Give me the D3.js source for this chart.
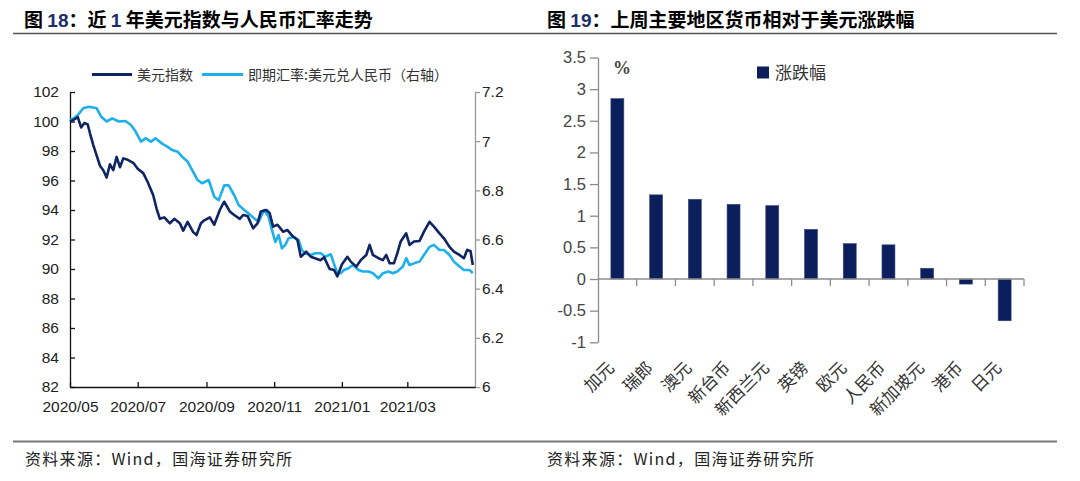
<!DOCTYPE html>
<html><head><meta charset="utf-8">
<script src="https://cdn.jsdelivr.net/npm/d3@7"></script>
<style>body{margin:0;background:#fff} svg{display:block}</style>
</head><body><svg id="c" width="1080" height="481"></svg>
<script>
// ---------- Figure 18 data ----------
const usdDates = ["2020-05-01","2020-05-04","2020-05-08","2020-05-11","2020-05-14","2020-05-17","2020-05-19","2020-05-22","2020-05-25","2020-05-28","2020-05-31","2020-06-03","2020-06-06","2020-06-09","2020-06-12","2020-06-15","2020-06-18","2020-06-22","2020-06-27","2020-07-01","2020-07-06","2020-07-10","2020-07-15","2020-07-18","2020-07-21","2020-07-25","2020-07-30","2020-08-03","2020-08-08","2020-08-11","2020-08-15","2020-08-20","2020-08-23","2020-08-27","2020-08-30","2020-09-04","2020-09-08","2020-09-13","2020-09-17","2020-09-22","2020-09-26","2020-10-01","2020-10-04","2020-10-08","2020-10-13","2020-10-17","2020-10-20","2020-10-25","2020-10-28","2020-10-31","2020-11-04","2020-11-09","2020-11-13","2020-11-18","2020-11-22","2020-11-25","2020-11-30","2020-12-04","2020-12-09","2020-12-13","2020-12-16","2020-12-21","2020-12-25","2020-12-28","2021-01-01","2021-01-06","2021-01-09","2021-01-14","2021-01-18","2021-01-23","2021-01-26","2021-01-29","2021-02-03","2021-02-07","2021-02-10","2021-02-13","2021-02-17","2021-02-20","2021-02-23","2021-02-28","2021-03-03","2021-03-07","2021-03-12","2021-03-16","2021-03-21","2021-03-25","2021-03-30","2021-04-03","2021-04-08","2021-04-12","2021-04-17","2021-04-21","2021-04-24","2021-04-27","2021-04-29"];
const usdValues = [100.0,100.1,100.3,99.6,99.9,99.8,99.2,98.4,97.7,97.0,96.7,96.2,97.1,96.7,97.6,96.9,97.5,97.4,97.2,96.8,96.5,95.9,95.0,94.1,93.4,93.5,93.1,93.4,93.1,92.6,93.2,92.5,92.3,93.1,93.3,93.5,93.0,94.0,94.56,93.9,93.66,93.4,93.66,93.6,92.76,93.1,93.9,94.0,93.78,92.87,93.0,92.53,92.64,92.2,91.97,90.83,91.17,90.83,90.7,90.6,90.8,90.0,89.93,89.5,90.3,90.83,90.5,90.16,90.6,90.95,91.63,90.95,90.73,90.6,90.95,90.39,90.4,91.07,91.86,92.42,91.63,91.86,91.9,92.53,93.2,92.87,92.42,92.08,91.5,91.17,90.95,90.73,91.3,91.2,90.27];
const cnyDates = ["2020-05-01","2020-05-05","2020-05-08","2020-05-13","2020-05-18","2020-05-25","2020-05-29","2020-06-03","2020-06-08","2020-06-14","2020-06-20","2020-06-25","2020-06-29","2020-07-04","2020-07-08","2020-07-13","2020-07-17","2020-07-23","2020-07-28","2020-08-01","2020-08-06","2020-08-10","2020-08-15","2020-08-19","2020-08-24","2020-08-28","2020-09-03","2020-09-08","2020-09-12","2020-09-17","2020-09-21","2020-09-26","2020-09-30","2020-10-05","2020-10-09","2020-10-14","2020-10-18","2020-10-23","2020-10-27","2020-10-30","2020-11-02","2020-11-05","2020-11-08","2020-11-11","2020-11-14","2020-11-19","2020-11-23","2020-11-26","2020-11-29","2020-12-04","2020-12-08","2020-12-13","2020-12-17","2020-12-22","2020-12-25","2020-12-28","2020-12-31","2021-01-03","2021-01-07","2021-01-11","2021-01-16","2021-01-20","2021-01-25","2021-01-29","2021-02-03","2021-02-07","2021-02-12","2021-02-16","2021-02-20","2021-02-25","2021-02-28","2021-03-03","2021-03-07","2021-03-12","2021-03-16","2021-03-21","2021-03-25","2021-03-30","2021-04-03","2021-04-08","2021-04-12","2021-04-17","2021-04-21","2021-04-26","2021-04-29"];
const cnyValues = [7.086,7.095,7.106,7.134,7.14,7.134,7.10,7.08,7.093,7.08,7.082,7.066,7.04,6.998,7.012,6.998,7.012,6.99,6.977,6.964,6.957,6.937,6.917,6.883,6.842,6.829,6.842,6.774,6.76,6.82,6.82,6.78,6.74,6.72,6.706,6.686,6.672,6.72,6.693,6.639,6.59,6.618,6.564,6.578,6.605,6.61,6.598,6.557,6.544,6.537,6.544,6.544,6.53,6.54,6.50,6.463,6.463,6.476,6.483,6.496,6.476,6.47,6.47,6.463,6.442,6.463,6.47,6.463,6.47,6.49,6.524,6.496,6.503,6.51,6.537,6.57,6.578,6.557,6.557,6.537,6.51,6.49,6.476,6.476,6.463];
const leftTicks = [82,84,86,88,90,92,94,96,98,100,102];
const rightTicks = [6,6.2,6.4,6.6,6.8,7,7.2];
const monthTicks = ["2020-05-01","2020-07-01","2020-09-01","2020-11-01","2021-01-01","2021-03-01"];
const seriesNames = ["美元指数","即期汇率:美元兑人民币（右轴）"];

// ---------- Figure 19 data ----------
const currencies = ["加元","瑞郎","澳元","新台币","新西兰元","英镑","欧元","人民币","新加坡元","港币","日元"];
const changes = [2.85,1.33,1.26,1.18,1.16,0.785,0.56,0.54,0.17,-0.08,-0.66];
const barTicks = [-1,-0.5,0,0.5,1,1.5,2,2.5,3,3.5];
const barSeries = "涨跌幅";

const FONT = "'Liberation Sans', Arial, 'Noto Sans CJK SC', sans-serif";
const CJK = "'Noto Sans CJK SC', 'Liberation Sans', sans-serif";
const DARK = "#0f2462", LIGHT = "#1eb0ea", BAR = "#0b1f5c";

const svg = d3.select("#c");
svg.append("rect").attr("width",1080).attr("height",481).attr("fill","#fff");

// Titles
function title(x, num, rest1, num2, rest2){
  const t = svg.append("text").attr("x",x).attr("y",27).attr("font-family",CJK)
    .attr("font-size",19).attr("font-weight","bold").attr("fill","#000");
  t.append("tspan").text("图 ");
  t.append("tspan").attr("font-family",FONT).attr("fill","#1b2f6b").text(num);
  t.append("tspan").text(rest1);
  if(num2){ t.append("tspan").attr("font-family",FONT).attr("fill","#1b2f6b").text(num2);
            t.append("tspan").text(rest2); }
}
title(24,"18","：近 ","1"," 年美元指数与人民币汇率走势");
title(547,"19","：上周主要地区货币相对于美元涨跌幅");
svg.append("line").attr("x1",13).attr("x2",1057).attr("y1",33.5).attr("y2",33.5).attr("stroke","#555").attr("stroke-width",1.3);
svg.append("line").attr("x1",13).attr("x2",1057).attr("y1",441.5).attr("y2",441.5).attr("stroke","#777").attr("stroke-width",2);
[25,547].forEach(x=>svg.append("text").attr("x",x).attr("y",465).attr("font-family",CJK)
  .attr("font-size",16).attr("letter-spacing",1.3).attr("fill","#222").text("资料来源：Wind，国海证券研究所"));

// ---------- Left chart ----------
const parse = d3.timeParse("%Y-%m-%d");
const x = d3.scaleTime().domain([parse("2020-05-01"), parse("2021-05-01")]).range([70,475]);
const yL = d3.scaleLinear().domain([82,102]).range([387,92]);
const yR = d3.scaleLinear().domain([6,7.2]).range([387,92]);
const gL = svg.append("g");

const axL = gL.append("g").attr("transform","translate(70,0)")
  .call(d3.axisLeft(yL).tickValues(leftTicks).tickSizeInner(-5).tickSizeOuter(0).tickPadding(11).tickFormat(d=>String(d)));
const axR = gL.append("g").attr("transform","translate(475,0)")
  .call(d3.axisRight(yR).tickValues(rightTicks).tickSizeInner(5).tickSizeOuter(0).tickPadding(2).tickFormat(d=>String(d)));
const axB = gL.append("g").attr("transform","translate(0,387)")
  .call(d3.axisBottom(x).tickValues(monthTicks.map(parse)).tickSizeInner(-5).tickSizeOuter(0).tickPadding(14).tickFormat(d3.timeFormat("%Y/%m")));
[axL,axB].forEach(a=>{a.selectAll("path,line").attr("stroke","#111").attr("stroke-width",1.3);});
axR.selectAll("path,line").attr("stroke","#999").attr("stroke-width",1.3);
[axL,axR,axB].forEach(a=>a.selectAll("text").attr("font-family",FONT).attr("font-size",15.5).attr("fill","#222"));

const lineUsd = d3.line().x((d,i)=>x(parse(usdDates[i]))).y(d=>yL(d));
const lineCny = d3.line().x((d,i)=>x(parse(cnyDates[i]))).y(d=>yR(d));
gL.append("path").attr("d",lineCny(cnyValues)).attr("fill","none").attr("stroke",LIGHT).attr("stroke-width",2.6).attr("stroke-linejoin","round");
gL.append("path").attr("d",lineUsd(usdValues)).attr("fill","none").attr("stroke",DARK).attr("stroke-width",2.6).attr("stroke-linejoin","round");

// legend
const lg = gL.append("g");
lg.append("line").attr("x1",92).attr("x2",132).attr("y1",74.5).attr("y2",74.5).attr("stroke",DARK).attr("stroke-width",3);
lg.append("text").attr("x",137).attr("y",79.5).attr("font-family",CJK).attr("font-size",14).attr("fill","#333").text(seriesNames[0]);
lg.append("line").attr("x1",202).attr("x2",243).attr("y1",74.5).attr("y2",74.5).attr("stroke",LIGHT).attr("stroke-width",3);
lg.append("text").attr("x",248).attr("y",79.5).attr("font-family",CJK).attr("font-size",14).attr("fill","#333").text(seriesNames[1]);

// ---------- Right chart ----------
const xb = d3.scaleBand().domain(currencies).range([598,1024]).paddingInner(0.665).paddingOuter(0.3325);
const yb = d3.scaleLinear().domain([-1,3.5]).range([342.3,57.5]);
const gR = svg.append("g");

gR.selectAll("rect.bar").data(changes).join("rect").attr("class","bar")
  .attr("x",(d,i)=>xb(currencies[i])).attr("width",xb.bandwidth())
  .attr("y",d=>yb(Math.max(0,d))).attr("height",d=>Math.abs(yb(d)-yb(0)))
  .attr("fill",BAR).attr("stroke","#3b4c7c").attr("stroke-width",0.6);

const axY = gR.append("g").attr("transform","translate(598,0)")
  .call(d3.axisLeft(yb).tickValues(barTicks).tickSizeInner(8).tickSizeOuter(0).tickPadding(4).tickFormat(d=>String(d)));
axY.selectAll("path,line").attr("stroke","#8c8c8c").attr("stroke-width",1.3);
axY.selectAll("text").attr("font-family",FONT).attr("font-size",16.5).attr("fill","#444");

// category axis at zero
const zx = gR.append("g").attr("transform",`translate(0,${yb(0)})`);
zx.append("line").attr("x1",598).attr("x2",1024).attr("stroke","#8c8c8c").attr("stroke-width",1.3);
zx.selectAll("line.t").data(currencies).join("line").attr("class","t")
  .attr("x1",c=>xb(c)+xb.bandwidth()/2+xb.step()/2).attr("x2",c=>xb(c)+xb.bandwidth()/2+xb.step()/2)
  .attr("y1",0).attr("y2",7).attr("stroke","#8c8c8c").attr("stroke-width",1.3);

gR.selectAll("text.cat").data(currencies).join("text").attr("class","cat")
  .attr("transform",c=>`translate(${xb(c)+xb.bandwidth()/2-2},369) rotate(-45)`)
  .attr("text-anchor","end").attr("font-family",CJK).attr("font-size",17).attr("fill","#333").text(c=>c);

gR.append("text").attr("x",613).attr("y",74).attr("font-family","'Liberation Serif', serif")
  .attr("font-size",18).attr("font-weight","bold").attr("fill","#444").text("%");
gR.append("rect").attr("x",757).attr("y",66.5).attr("width",12).attr("height",12).attr("fill",BAR);
gR.append("text").attr("x",775).attr("y",78.5).attr("font-family",CJK).attr("font-size",17).attr("fill","#333").text(barSeries);
</script></body></html>
